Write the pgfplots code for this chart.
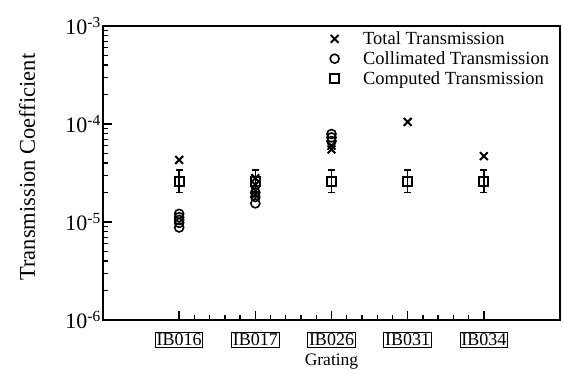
\documentclass[border=0pt]{standalone}
\usepackage{fontspec}
\setmainfont{Liberation Serif}
\usepackage{pgfplots}
\pgfplotsset{compat=1.18}
\begin{document}
\begin{tikzpicture}
\begin{axis}[
  name=ax,
  scale only axis,
  width=457pt, height=294pt,
  xmin=0, xmax=6,
  ymode=log, ymin=1e-6, ymax=1e-3,
  axis line style={line width=2pt},
  xtick pos=bottom, ytick pos=left,
  xtick align=inside, ytick align=inside,
  xtick={1,2,3,4,5},
  xticklabels={IB016,IB017,IB026,IB031,IB034},
  minor x tick num=4,
  ytick={1e-6,1e-5,1e-4,1e-3},
  minor ytick={2e-6,3e-6,4e-6,5e-6,6e-6,7e-6,8e-6,9e-6,2e-5,3e-5,4e-5,5e-5,6e-5,7e-5,8e-5,9e-5,2e-4,3e-4,4e-4,5e-4,6e-4,7e-4,8e-4,9e-4},
  yticklabels={10\textsuperscript{-6},10\textsuperscript{-5},10\textsuperscript{-4},10\textsuperscript{-3}},
  major tick length=9pt, minor tick length=5pt,
  every major tick/.append style={black, line width=1.5pt},
  every minor tick/.append style={black, line width=1.3pt},
  xticklabel style={draw, line width=1pt, inner sep=1.2pt, anchor=center, yshift=-20pt, font=\fontsize{18}{18}\selectfont},
  yticklabel style={font=\fontsize{22}{22}\selectfont, inner sep=2pt},
  xlabel={Grating},
  xlabel style={at={(rel axis cs:0.5,0)}, anchor=center, yshift=-42pt, font=\fontsize{17.5}{17.5}\selectfont},
  ylabel={Transmission Coefficient},
  ylabel style={at={(rel axis cs:-0.166,0.52)}, anchor=center, font=\fontsize{22.5}{22.5}\selectfont},
  legend style={at={(rel axis cs:0.49,0.995)}, anchor=north west, draw=none, fill=none,
    font=\fontsize{18.5}{18.5}\selectfont, row sep=1.5pt, cells={anchor=west},
    /tikz/every odd column/.append style={column sep=22pt}},
  legend image post style={xshift=-19pt},
]
\addplot[only marks, mark=x, mark size=5.5pt, line width=2pt] coordinates {
  (1,4.3e-5)
  (2,2.8e-5) (2,2.4e-5) (2,2.1e-5) (2,1.9e-5)
  (3,6.0e-5) (3,5.5e-5)
  (4,1.05e-4)
  (5,4.7e-5)
};
\addlegendentry{Total Transmission}
\addplot[only marks, mark=o, mark size=4.5pt, line width=1.6pt] coordinates {
  (1,1.21e-5) (1,1.12e-5) (1,1.05e-5) (1,9.8e-6) (1,8.8e-6)
  (2,2.0e-5) (2,1.8e-5) (2,1.55e-5)
  (3,7.9e-5) (3,7.3e-5) (3,6.7e-5)
};
\addlegendentry{Collimated Transmission}
\addplot[only marks, mark=square, mark size=4.5pt, line width=1.7pt,
  error bars/.cd, y dir=both, y explicit,
  error bar style={line width=1.6pt},
  error mark options={rotate=90, mark size=3.5pt, line width=1.6pt}]
  coordinates {
  (1,2.6e-5) += (0,0.8e-5) -= (0,0.6e-5)
  (2,2.6e-5) += (0,0.8e-5) -= (0,0.6e-5)
  (3,2.6e-5) += (0,0.8e-5) -= (0,0.6e-5)
  (4,2.6e-5) += (0,0.8e-5) -= (0,0.6e-5)
  (5,2.6e-5) += (0,0.8e-5) -= (0,0.6e-5)
};
\addlegendentry{Computed Transmission}
\end{axis}
\pgfresetboundingbox
\path[use as bounding box] ([shift={(-103pt,-53pt)}]ax.south west) rectangle ([shift={(3pt,26pt)}]ax.north east);
\end{tikzpicture}
\end{document}
